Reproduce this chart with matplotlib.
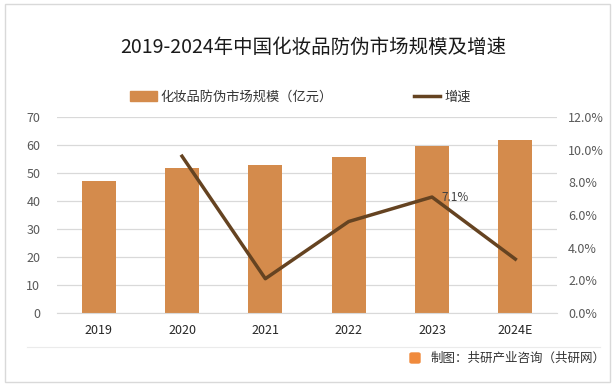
import matplotlib
matplotlib.use("Agg")
import matplotlib.pyplot as plt
from matplotlib.patches import Rectangle, FancyBboxPatch
from matplotlib.lines import Line2D
from matplotlib.ticker import FuncFormatter, MultipleLocator

plt.rcParams['font.family'] = ['Noto Sans CJK SC', 'DejaVu Sans']

years = ["2019", "2020", "2021", "2022", "2023", "2024E"]
market_size = [47.1, 51.8, 52.9, 55.7, 59.6, 61.8]
growth_years = ["2020", "2021", "2022", "2023", "2024E"]
growth = [9.6, 2.1, 5.6, 7.1, 3.3]

title = "2019-2024年中国化妆品防伪市场规模及增速"
bar_label = "化妆品防伪市场规模（亿元）"
line_label = "增速"
source = "制图：共研产业咨询（共研网）"

bar_color = "#D48B4C"
line_color = "#654321"
tick_color = "#595959"
grid_color = "#D9D9D9"

fig = plt.figure(figsize=(6.15, 3.89), dpi=100)
ax = fig.add_axes([57/615, (389-313)/389, 500/615, 196/389])

x = list(range(len(years)))
ax.bar(x, market_size, width=0.41, color=bar_color, zorder=2)
ax.set_xlim(-0.5, len(years) - 0.5)
ax.set_ylim(0, 70)
ax.yaxis.set_major_locator(MultipleLocator(10))
ax.set_xticks(x)
ax.set_xticklabels(years)
ax.grid(axis='y', color=grid_color, linewidth=0.9, zorder=0)
for s in ['top', 'right', 'left']:
    ax.spines[s].set_visible(False)
ax.spines['bottom'].set_color(grid_color)
ax.tick_params(axis='both', length=0, labelsize=9, colors=tick_color)
ax.tick_params(axis='x', pad=8, colors='#262626')
ax.tick_params(axis='y', pad=12)

ax2 = ax.twinx()
gx = [years.index(y) for y in growth_years]
ax2.plot(gx, growth, color=line_color, linewidth=2.5, zorder=3)
ax2.set_ylim(0, 12)
ax2.yaxis.set_major_locator(MultipleLocator(2))
ax2.yaxis.set_major_formatter(FuncFormatter(lambda v, p: f"{v:.1f}%"))
for s in ['top', 'right', 'left', 'bottom']:
    ax2.spines[s].set_visible(False)
ax2.tick_params(axis='y', length=0, labelsize=9, colors=tick_color, pad=8)
i23 = growth_years.index("2023")
ax2.annotate(f"{growth[i23]}%", (gx[i23], growth[i23]), xytext=(7, 0),
             textcoords='offset points', fontsize=8.5, color='#404040',
             ha='left', va='center')

fig.text(0.51, 1 - 47/389, title, ha='center', va='center', fontsize=14, color='#1a1a1a')

# legend
handles = [Rectangle((0, 0), 1, 1, color=bar_color),
           Line2D([0], [0], color=line_color, linewidth=2.5)]
fig.legend(handles, [bar_label, line_label], loc='center',
           bbox_to_anchor=(0.4885, 1 - 97/389), ncol=2, frameon=False,
           fontsize=9.5, handlelength=2.0, handleheight=0.7, columnspacing=6.15,
           handletextpad=0.3, labelcolor='#333333')

# outer border and footer line
fig.add_artist(Rectangle((5/615, 1 - 382/389), 605/615, 378/389,
                         transform=fig.transFigure, fill=False,
                         edgecolor='#D9D9D9', linewidth=1))
fig.add_artist(Line2D([27/615, 600/615], [1 - 347/389, 1 - 347/389],
                      transform=fig.transFigure, color='#EBEBEB', linewidth=0.8))
fig.add_artist(FancyBboxPatch((410/615, 1 - 363/389), 10/615, 10/389,
                              boxstyle='round,pad=0,rounding_size=0.003',
                              transform=fig.transFigure, color='#F08A3C'))
fig.text(431/615, 1 - 358/389, source, ha='left', va='center', fontsize=9, color='#333333')

fig.savefig("out.png", dpi=100)
